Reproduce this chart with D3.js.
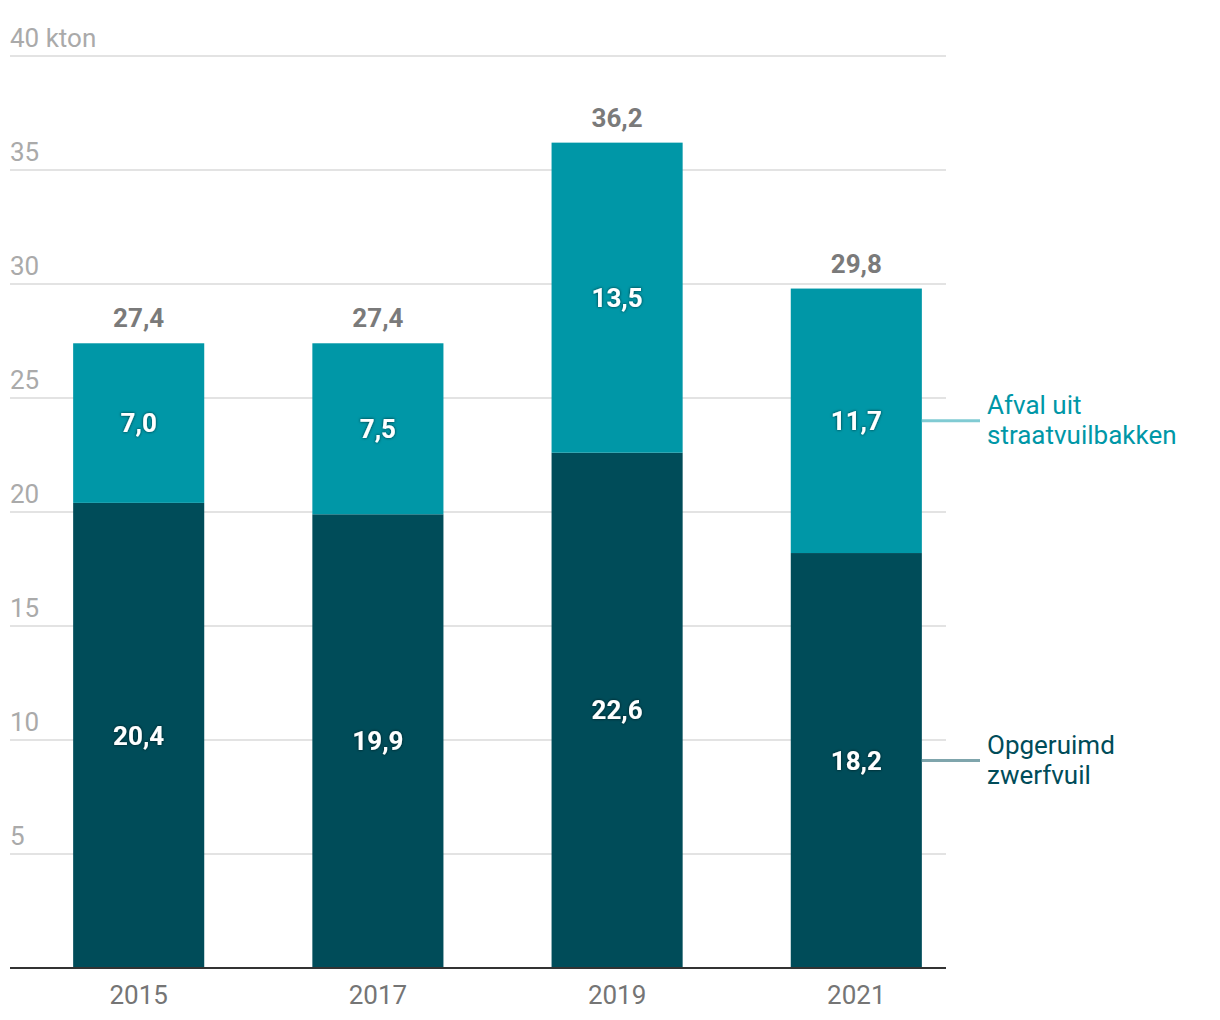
<!DOCTYPE html>
<html><head><meta charset="utf-8">
<script src="https://cdn.jsdelivr.net/npm/d3@7"></script>
<style>
body{margin:0;background:#fff;font-family:Roboto,"Noto Sans",sans-serif;}
</style></head><body>
<svg id="c" width="1220" height="1020"></svg>
<script>
const years = ["2015","2017","2019","2021"];
const zwerfvuil = [20.4, 19.9, 22.6, 18.2];
const bakken = [7.0, 7.5, 13.5, 11.7];
const totals = [27.4, 27.4, 36.2, 29.8];
const yTicks = [5,10,15,20,25,30,35,40];
const tickLabels = ["5","10","15","20","25","30","35","40 kton"];
const seriesNames = ["Opgeruimd\nzwerfvuil","Afval uit\nstraatvuilbakken"];
const colors = ["#004c59","#0097a7"];

const fmt = v => d3.format(".1f")(v).replace(".", ",");
const svg = d3.select("#c");
const y = d3.scaleLinear().domain([0,40]).range([968,56]);
const x = d3.scaleBand().domain(years).range([10,985]).paddingInner(0.452).paddingOuter(0.264);
const gridL = 10, gridR = 946;
const FS = 26;

// grid
svg.append("g").selectAll("line").data(yTicks).join("line")
  .attr("x1",gridL).attr("x2",gridR).attr("y1",d=>y(d)).attr("y2",d=>y(d))
  .attr("stroke","#e3e3e3").attr("stroke-width",2);
svg.append("g").selectAll("text").data(yTicks).join("text")
  .attr("x",gridL).attr("y",d=>y(d)-9)
  .attr("font-size",FS).attr("fill","#aaaaaa")
  .text((d,i)=>tickLabels[i]);

// shadow filter
const f = svg.append("defs").append("filter").attr("id","sh").attr("x","-20%").attr("y","-20%").attr("width","140%").attr("height","140%");
f.append("feDropShadow").attr("dx",0).attr("dy",0).attr("stdDeviation",1.5).attr("flood-color","#000").attr("flood-opacity",0.7);

// bars
const g = svg.append("g");
g.selectAll("rect.z").data(years).join("rect").attr("class","z")
  .attr("x",d=>x(d)).attr("width",x.bandwidth())
  .attr("y",(d,i)=>y(zwerfvuil[i])).attr("height",(d,i)=>y(0)-y(zwerfvuil[i]))
  .attr("fill",colors[0]);
g.selectAll("rect.b").data(years).join("rect").attr("class","b")
  .attr("x",d=>x(d)).attr("width",x.bandwidth())
  .attr("y",(d,i)=>y(totals[i])).attr("height",(d,i)=>y(zwerfvuil[i])-y(totals[i]))
  .attr("fill",colors[1]);

// segment labels
g.selectAll("text.zl").data(years).join("text").attr("class","zl")
  .attr("x",d=>x(d)+x.bandwidth()/2).attr("y",(d,i)=>(y(0)+y(zwerfvuil[i]))/2)
  .attr("dy","0.35em").attr("text-anchor","middle").attr("font-size",FS).attr("font-weight","bold")
  .attr("fill","#fff").attr("filter","url(#sh)").text((d,i)=>fmt(zwerfvuil[i]));
g.selectAll("text.bl").data(years).join("text").attr("class","bl")
  .attr("x",d=>x(d)+x.bandwidth()/2).attr("y",(d,i)=>(y(zwerfvuil[i])+y(totals[i]))/2)
  .attr("dy","0.35em").attr("text-anchor","middle").attr("font-size",FS).attr("font-weight","bold")
  .attr("fill","#fff").attr("filter","url(#sh)").text((d,i)=>fmt(bakken[i]));
g.selectAll("text.tl").data(years).join("text").attr("class","tl")
  .attr("x",d=>x(d)+x.bandwidth()/2).attr("y",(d,i)=>y(totals[i])-16)
  .attr("text-anchor","middle").attr("font-size",FS).attr("font-weight","bold")
  .attr("fill","#7a7a7a").text((d,i)=>fmt(totals[i]));

// baseline
svg.append("line").attr("x1",gridL).attr("x2",gridR).attr("y1",y(0)).attr("y2",y(0))
  .attr("stroke","#333").attr("stroke-width",2);

// x labels
svg.append("g").selectAll("text").data(years).join("text")
  .attr("x",d=>x(d)+x.bandwidth()/2).attr("y",1004)
  .attr("text-anchor","middle").attr("font-size",FS).attr("fill","#757575").text(d=>d);

// legend (attached to last bar)
const li = years.length-1;
const legY = [ (y(0)+y(zwerfvuil[li]))/2, (y(zwerfvuil[li])+y(totals[li]))/2 ];
const lineCols = ["#7fa5ac","#80cbd3"];
[0,1].forEach(s=>{
  const xr = x(years[li])+x.bandwidth();
  svg.append("line").attr("x1",xr).attr("x2",980).attr("y1",legY[s]).attr("y2",legY[s])
    .attr("stroke",lineCols[s]).attr("stroke-width",3);
  const t = svg.append("text").attr("x",987).attr("y",legY[s]-7)
    .attr("font-size",FS).attr("fill",colors[s]);
  seriesNames[s].split("\n").forEach((ln,k)=>{
    t.append("tspan").attr("x",987).attr("dy",k===0?0:30).text(ln);
  });
});
</script>
</body></html>
